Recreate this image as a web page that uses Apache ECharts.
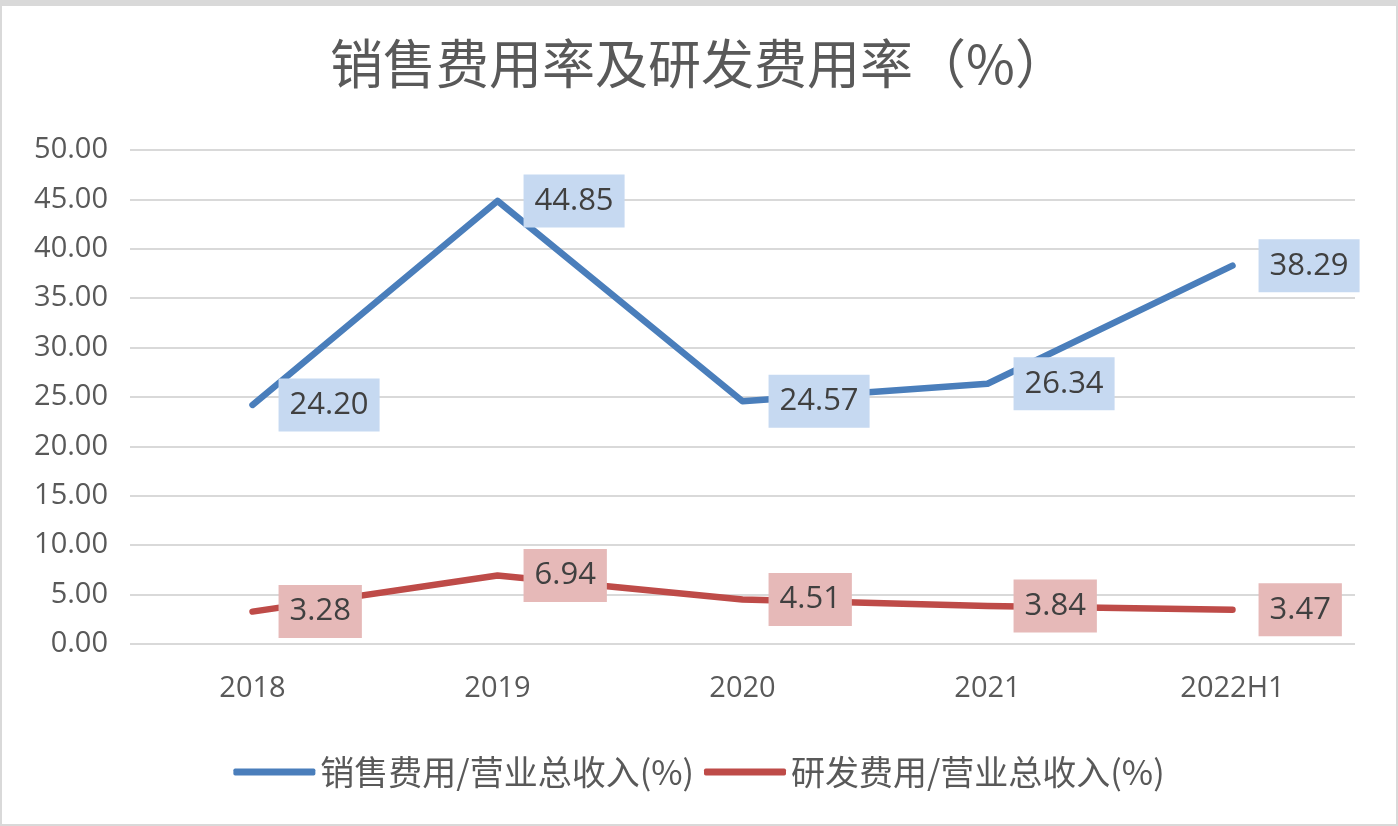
<!DOCTYPE html>
<html><head><meta charset="utf-8">
<script src="https://cdn.jsdelivr.net/npm/echarts@6/dist/echarts.min.js"></script>
<style>
html,body{margin:0;padding:0;background:#fff;}
#c{position:absolute;left:0;top:0;width:1398px;height:826px;}
#b{position:absolute;left:0;top:0;width:1398px;height:826px;box-sizing:border-box;border:2px solid #d9d9d9;border-top:6px solid #d9d9d9;pointer-events:none;}
</style></head>
<body><div id="c"></div><div id="b"></div>
<script>
const titleText = '销售费用率及研发费用率（%）';
const categories = ['2018', '2019', '2020', '2021', '2022H1'];
const salesName = '销售费用/营业总收入(%)';
const rdName = '研发费用/营业总收入(%)';
const salesValues = [24.20, 44.85, 24.57, 26.34, 38.29];
const rdValues = [3.28, 6.94, 4.51, 3.84, 3.47];

const chart = echarts.init(document.getElementById('c'));
const font = "'Noto Sans CJK SC','Noto Sans',sans-serif";
const numFont = "'Open Sans','Noto Sans',sans-serif";
function mkSeries(name, data, color, bg) {
  return {
    name: name, type: 'line', data: data,
    symbol: 'circle', symbolSize: 0.1,
    itemStyle: {color: color},
    lineStyle: {color: color, width: 6.5, cap: 'round', join: 'round'},
    label: {
      show: true, position: 'right', distance: 26,
      formatter: p => p.value.toFixed(2),
      backgroundColor: bg, padding: [12, 11, 10, 11],
      color: '#404040', fontSize: 31, fontFamily: numFont
    },
    emphasis: {disabled: true}, animation: false
  };
}
chart.setOption({
  animation: false,
  title: {
    text: titleText, left: 'center', top: 32,
    textStyle: {fontSize: 53, fontWeight: 'normal', color: '#595959', fontFamily: font}
  },
  grid: {left: 130, right: 43, top: 150, bottom: 182},
  legend: {
    top: 750, left: 'center', itemWidth: 82, itemHeight: 7, itemGap: 10,
    icon: 'roundRect',
    textStyle: {fontSize: 34, color: '#595959', fontFamily: font},
    data: [salesName, rdName]
  },
  xAxis: {
    type: 'category', data: categories, boundaryGap: true,
    axisLine: {show: false}, axisTick: {show: false},
    axisLabel: {fontSize: 29, color: '#595959', margin: 30, fontFamily: numFont}
  },
  yAxis: {
    type: 'value', min: 0, max: 50, interval: 5,
    axisLine: {show: false}, axisTick: {show: false},
    splitLine: {lineStyle: {color: '#d9d9d9', width: 2}},
    axisLabel: {fontSize: 29, color: '#595959', margin: 22, fontFamily: numFont, formatter: v => v.toFixed(2)}
  },
  series: [
    mkSeries(salesName, salesValues, '#4a7ebb', '#c6d9f1'),
    mkSeries(rdName, rdValues, '#be4b48', '#e6b9b8')
  ]
});
</script></body></html>
